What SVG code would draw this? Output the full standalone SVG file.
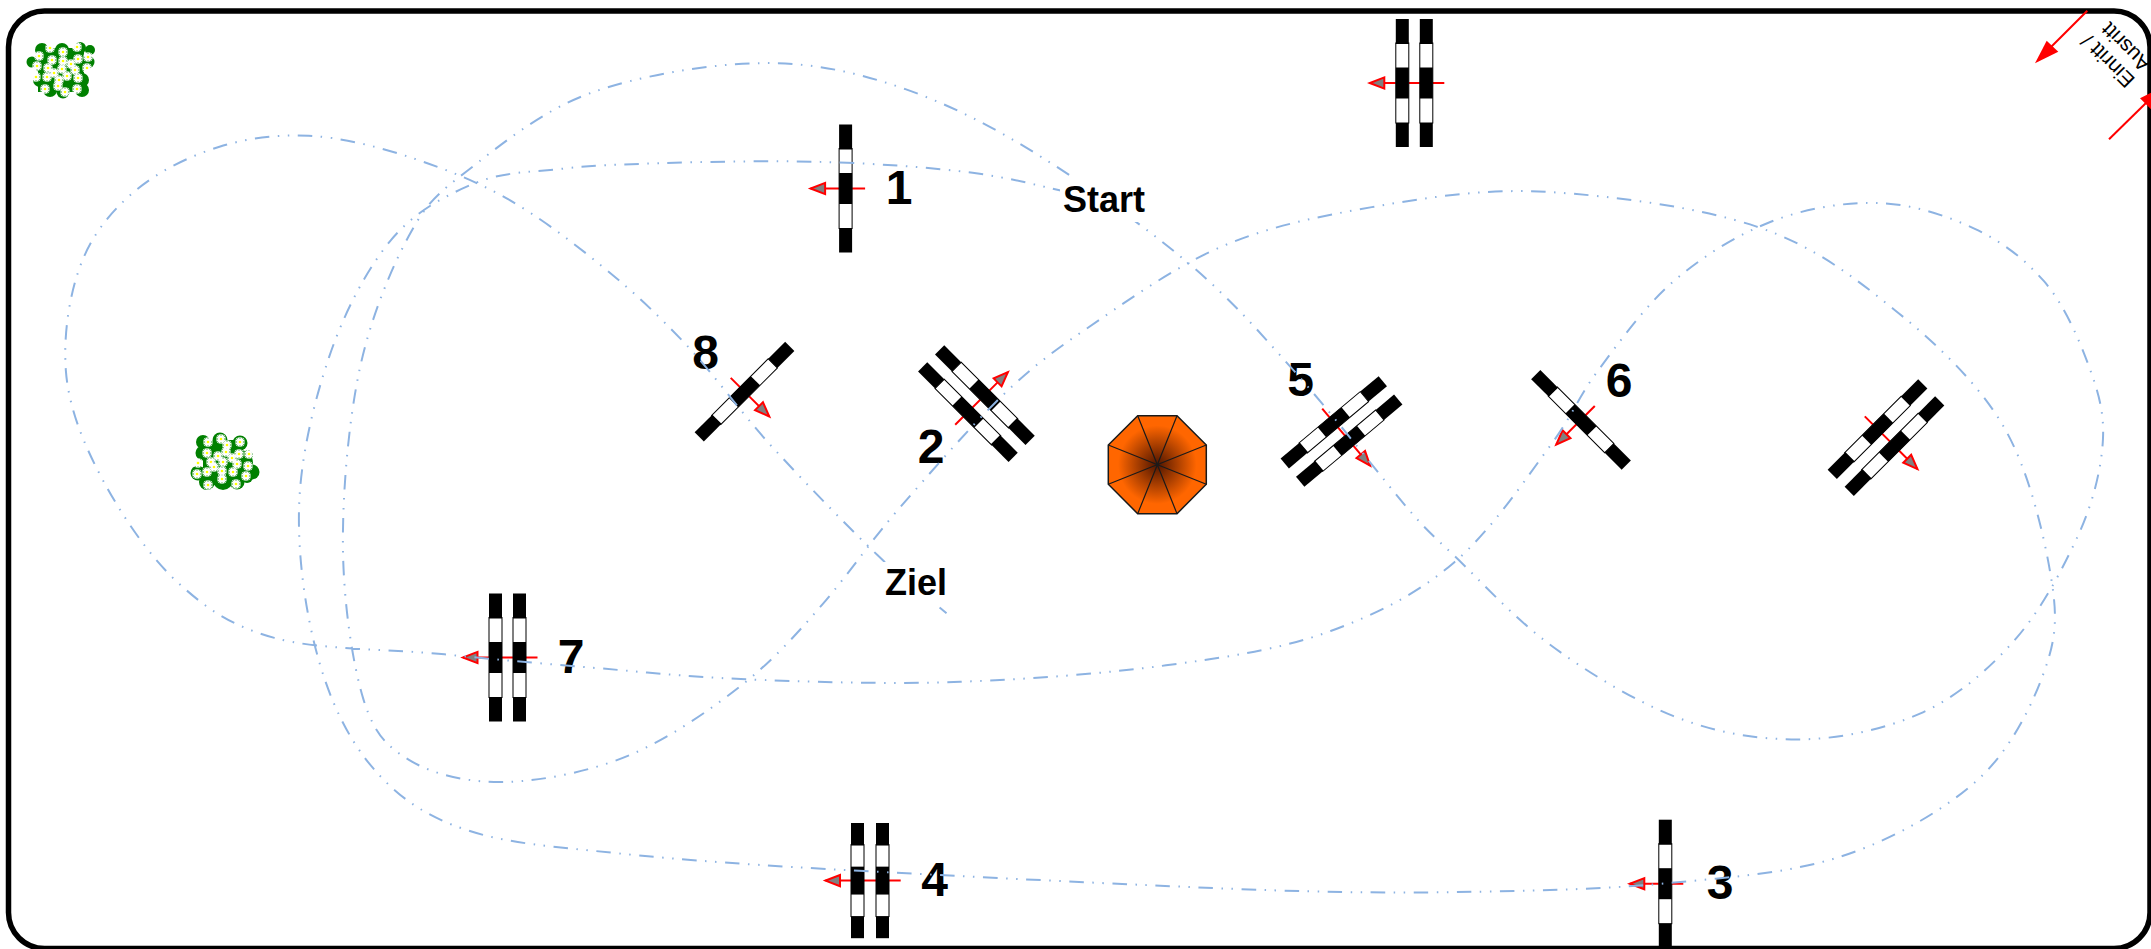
<svg xmlns="http://www.w3.org/2000/svg" xmlns:xlink="http://www.w3.org/1999/xlink" width="2151" height="949" viewBox="0 0 2151 949">
<style>
.num{font:bold 48px "Liberation Sans",Arial,sans-serif;fill:#000;text-anchor:middle}
.lbl{font:bold 36px "Liberation Sans",Arial,sans-serif;fill:#000;text-anchor:middle}
.entry{font:21px "Liberation Sans",Arial,sans-serif;fill:#000}
.arw{stroke:#f00;stroke-width:2;fill:none;marker-end:url(#head)}
.red{stroke:#f00;stroke-width:2;fill:none}
.seg{stroke:#000;stroke-width:1;fill:#fff}
.path{fill:none;stroke:#8db3e2;stroke-width:1.45;stroke-dasharray:10.6 6.2 1.1 6.2 1.1 6.2}
.spoke{stroke:#1a1a1a;stroke-width:1.2;fill:none}
</style>
<defs>
<marker id="head" markerUnits="userSpaceOnUse" markerWidth="20" markerHeight="20" overflow="visible" orient="auto" refX="0" refY="0"><polygon points="0,0 -14.5,-5.6 -14.5,5.6" fill="#808080" stroke="#f00" stroke-width="2"/></marker>
<radialGradient id="oct" gradientUnits="userSpaceOnUse" cx="1157.3" cy="464.7" r="49"><stop offset="0" stop-color="#4f1500"/><stop offset=".8" stop-color="#ff6600"/></radialGradient>
<g id="bar"><rect class="seg" x="-6.5" y="-40" width="13" height="80"/><rect x="-6.5" y="-64" width="13" height="25"/><rect x="-6.5" y="-15.5" width="13" height="31"/><rect x="-6.5" y="40" width="13" height="24"/></g>
<g id="single"><line class="arw" x1="19.5" y1="0" x2="-35" y2="0"/><use xlink:href="#bar" href="#bar"/></g>
<g id="double"><line class="arw" x1="30" y1="0" x2="-44.5" y2="0"/><use xlink:href="#bar" href="#bar" x="-12"/><use xlink:href="#bar" href="#bar" x="12"/></g>
<g id="fl"><path d="M-5,0H5M0,-5V5M-3.6,-3.6L3.6,3.6M-3.6,3.6L3.6,-3.6M-4.6,-2L4.6,2M-4.6,2L4.6,-2M-2,-4.6L2,4.6M2,-4.6L-2,4.6" stroke="#fff" stroke-width="1.2" fill="none"/><circle r="2" fill="#fff"/><circle r="1.3" fill="#ff0"/></g>
</defs>
<rect width="2151" height="949" fill="#fff"/>
<rect id="frame" x="8.5" y="11" width="2141.5" height="937.5" rx="36" ry="36" fill="#fff" stroke="#000" stroke-width="5.5"/>

<g id="entry">
<line class="red" x1="2087.3" y1="10.7" x2="2050" y2="48"/><polygon points="2035,63.3 2046.7,40.7 2058.3,51.7" fill="#f00"/>
<line class="red" x1="2109" y1="139.3" x2="2147" y2="102"/><polygon points="2163,86.7 2140,98.3 2151.4,109.7" fill="#f00"/>
<text class="entry" transform="translate(2136 79) rotate(225)">Einritt /</text>
<text class="entry" transform="translate(2152 63) rotate(225)">Ausritt</text>
</g>

<g id="bush-1" fill="#008000">
<rect x="38" y="48" width="46" height="44"/>
<circle cx="42" cy="50" r="7"/><circle cx="62" cy="50" r="7"/><circle cx="80" cy="48" r="6"/><circle cx="90" cy="50" r="5"/><circle cx="32" cy="62" r="5.5"/><circle cx="43" cy="63" r="10"/><circle cx="67" cy="63" r="13"/><circle cx="88" cy="62" r="6.5"/><circle cx="40" cy="80" r="7"/><circle cx="60" cy="73" r="13"/><circle cx="82" cy="80" r="7"/><circle cx="50" cy="90" r="7"/><circle cx="63" cy="92" r="6.5"/><circle cx="82" cy="90" r="7"/>
<use href="#fl" x="50" y="48"/><use href="#fl" x="77" y="47"/><use href="#fl" x="63" y="52"/><use href="#fl" x="39" y="56"/><use href="#fl" x="52" y="60"/><use href="#fl" x="63" y="61"/><use href="#fl" x="78" y="59"/><use href="#fl" x="88" y="57"/><use href="#fl" x="71" y="64"/><use href="#fl" x="37" y="66"/><use href="#fl" x="48" y="68"/><use href="#fl" x="62" y="69"/><use href="#fl" x="75" y="70"/><use href="#fl" x="87" y="68"/><use href="#fl" x="54" y="73"/><use href="#fl" x="36" y="77"/><use href="#fl" x="47" y="77"/><use href="#fl" x="67" y="76"/><use href="#fl" x="78" y="78"/><use href="#fl" x="59" y="80"/><use href="#fl" x="45" y="89"/><use href="#fl" x="58" y="86"/><use href="#fl" x="77" y="89"/><use href="#fl" x="65" y="92"/>
</g>
<g id="bush-2" fill="#008000">
<rect x="203" y="440" width="40" height="45"/>
<circle cx="203" cy="442" r="7"/><circle cx="220" cy="440" r="7.5"/><circle cx="240" cy="443" r="7.5"/><circle cx="203" cy="453" r="7.5"/><circle cx="220" cy="460" r="17"/><circle cx="240" cy="463" r="13"/><circle cx="248" cy="455" r="5"/><circle cx="198" cy="473" r="7.5"/><circle cx="252" cy="472" r="7.5"/><circle cx="207" cy="482" r="8"/><circle cx="223" cy="480" r="10"/><circle cx="237" cy="482" r="7.5"/><circle cx="247" cy="477" r="6"/>
<use href="#fl" x="208" y="442"/><use href="#fl" x="221" y="439"/><use href="#fl" x="227" y="445"/><use href="#fl" x="240" y="442"/><use href="#fl" x="207" y="453"/><use href="#fl" x="218" y="456"/><use href="#fl" x="226" y="452"/><use href="#fl" x="239" y="454"/><use href="#fl" x="249" y="454"/><use href="#fl" x="232" y="458"/><use href="#fl" x="211" y="462"/><use href="#fl" x="223" y="462"/><use href="#fl" x="198" y="463"/><use href="#fl" x="214" y="467"/><use href="#fl" x="237" y="464"/><use href="#fl" x="248" y="466"/><use href="#fl" x="222" y="471"/><use href="#fl" x="233" y="472"/><use href="#fl" x="197" y="474"/><use href="#fl" x="207" y="472"/><use href="#fl" x="246" y="476"/><use href="#fl" x="222" y="479"/><use href="#fl" x="236" y="484"/><use href="#fl" x="208" y="485"/>
</g>

<g id="octagon">
<polygon points="1137.7,415.7 1177,415.7 1206.3,445 1206.3,484.3 1177,513.7 1137.7,513.7 1108.3,484.3 1108.3,445" fill="url(#oct)" stroke="#1a1a1a" stroke-width="1.5"/>
<path class="spoke" d="M1137.7,415.7L1177,513.7M1177,415.7L1137.7,513.7M1206.3,445L1108.3,484.3M1206.3,484.3L1108.3,445"/>
</g>

<g id="jump-1"><use href="#single" transform="translate(845.6 188.5)"/><text class="num" x="899" y="204">1</text></g>
<g id="jump-2"><use href="#double" transform="translate(976.4 403.6) rotate(135)"/><text class="num" x="931" y="463">2</text></g>
<g id="jump-3"><g transform="translate(1665.3 883.7)"><line class="arw" x1="18" y1="0" x2="-35.5" y2="0"/><use href="#bar"/></g><text class="num" x="1720" y="899">3</text></g>
<g id="jump-4"><g transform="translate(870 880.6)"><line class="arw" x1="30.7" y1="0" x2="-44.5" y2="0"/><use href="#bar" transform="translate(-12.5 0) scale(1 .9)"/><use href="#bar" transform="translate(12.5 0) scale(1 .9)"/></g><text class="num" x="934.5" y="896">4</text></g>
<g id="jump-5"><use href="#double" transform="translate(1341.5 431.5) rotate(230)"/><text class="num" x="1300.5" y="396">5</text></g>
<g id="jump-6"><use href="#single" transform="translate(1581 419.8) rotate(-45)"/><text class="num" x="1619" y="397">6</text></g>
<g id="jump-7"><use href="#double" transform="translate(507.5 657.5)"/><text class="num" x="571" y="673">7</text></g>
<g id="jump-8"><use href="#single" transform="translate(744.5 391.7) rotate(225)"/><text class="num" x="705.5" y="369">8</text></g>
<g id="jump-9"><use href="#double" transform="translate(1414.3 83)"/></g>
<g id="jump-10"><use href="#double" transform="translate(1886 437.6) rotate(225)"/></g>

<g id="connectors" transform="scale(1.3718)">
<path class="path" d="M778,140C755,135 739,130 709,126S636,119 598,118S511,118 480,119S432,120.500 410,123S366,125 345,134S302.500,154 285,175S251,227.500 240,260S219,333 218,370S223,448 232,480S254,539 272,560S310,595 340,605S402,617 450,622S555,631 630,635S825,645 900,648S1028,651 1080,650S1170,648 1213,644S1302,637 1340,625S1415,592 1440,570S1481,515 1490,490S1500,450 1495,420S1479,342 1460,310S1410,249 1380,225S1322,179 1280,165S1177,143 1130,140S1040,144 1000,151S925,165 890,180S818,222 790,241S746,273 724,295S677,346 656,370S619,418 600,440S563,482 540,500S488,538 460,550S397,569 370,570S317,565 300,555S273,536 265,510S250.500,440 250,400S254,308 262,270S285,196 298,172S318,142 340,125S394,81 430,68S517,46.500 555,46S626,53 660,65S725,93 760,115S840,169 870,195S918,242 943,270S1000,339 1019,362S1041,387 1060,405S1103,450 1130,470S1190,510 1220,522S1280,539 1310,539S1373,532 1400,520S1451,487 1470,465S1504,414 1515,390S1532,341 1533,320S1529,284 1522,265S1504,221 1490,205S1460,176.500 1440,167S1395,149 1370,148S1315,152 1290,162S1241,187 1220,205S1180,250 1165,270S1147,302 1130,325S1087,387 1060,410S1005,447 970,460S895,479 850,485S752,495 700,497S584,497 540,495S471,490 435,487S363,481 324,477S232,474 200,465S151,444 130,425S89,376 75,350S50,297 48,270S51,212 60,190S83,152 100,138S139,113.500 160,107S202,98 225,99S276,107 300,115S347,132 370,145S418,177 440,195S478,228 499,250S540,301 564,327S619,385 640,405S665,426 690,447"/>
</g>

<g id="label-start"><rect x="1060" y="176" width="88" height="46" fill="#fff"/><text class="lbl" x="1104" y="212">Start</text></g>
<g id="label-ziel"><rect x="883" y="562" width="66" height="44" fill="#fff"/><text class="lbl" x="916" y="595">Ziel</text></g>
</svg>
